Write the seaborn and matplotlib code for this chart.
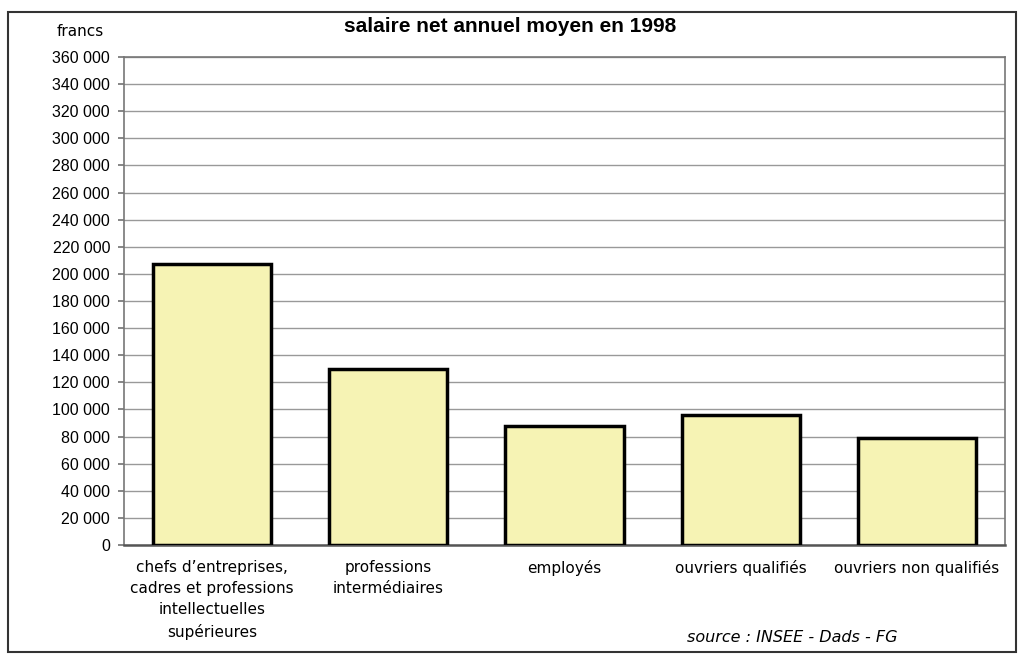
import matplotlib
matplotlib.use("Agg")
import matplotlib.pyplot as plt
import seaborn as sns
import pandas as pd
from matplotlib.patches import Rectangle
from matplotlib.ticker import FuncFormatter, MultipleLocator

categories = [
    "chefs d’entreprises,\ncadres et professions\nintellectuelles\nsupérieures",
    "professions\nintermédiaires",
    "employés",
    "ouvriers qualifiés",
    "ouvriers non qualifiés",
]
salaires = [207000, 130000, 88000, 96000, 79000]

title = "salaire net annuel moyen en 1998"
unit_label = "francs"
source = "source : INSEE - Dads - FG"

sns.set_theme(style="white")
plt.rcParams['font.family'] = ['DejaVu Sans']
plt.rcParams['text.color'] = 'black'
plt.rcParams['xtick.color'] = 'black'
plt.rcParams['ytick.color'] = 'black'

df = pd.DataFrame({"cat": categories, "val": salaires})

fig = plt.figure(figsize=(10.24, 6.57), dpi=100)
ax = fig.add_axes([124/1024, 1-545/657, (1005-124)/1024, (545-57)/657])

sns.barplot(data=df, x="cat", y="val", ax=ax, color="#F6F3B4", width=0.67,
            edgecolor="black", linewidth=2.5, saturation=1, zorder=3)

ax.set_ylim(0, 360000)
ax.set_xlim(-0.5, 4.5)
ax.yaxis.set_major_locator(MultipleLocator(20000))
ax.yaxis.set_major_formatter(FuncFormatter(lambda v, p: f"{int(v):,}".replace(",", " ")))
ax.grid(axis="y", color="#999999", linewidth=1.0, zorder=0)
ax.set_axisbelow(True)
for s in ax.spines.values():
    s.set_color("#777777")
    s.set_linewidth(1.2)
ax.spines["bottom"].set_color("#555555")
ax.spines["bottom"].set_linewidth(1.8)

ax.set_xlabel("")
ax.set_ylabel("")
ax.tick_params(axis="y", labelsize=11.5, length=4, color="#777777", labelcolor="black", pad=6, left=True)
ax.tick_params(axis="x", length=0, pad=11, labelcolor="black")
for t in ax.get_yticklabels():
    t.set_fontfamily("Liberation Sans")
for t in ax.get_xticklabels():
    t.set_fontsize(11)
    t.set_linespacing(1.5)
    t.set_verticalalignment("top")

fig.text(510/1024, 1-27/657, title, ha="center", va="center",
         fontsize=15, fontweight="bold", family="Liberation Sans", color="black")
fig.text(80/1024, 1-31/657, unit_label, ha="center", va="center",
         fontsize=11, family="DejaVu Sans", color="black")
fig.text(792/1024, 1-637/657, source, ha="center", va="center",
         fontsize=11.5, style="italic", family="DejaVu Sans", color="black")

fig.patches.append(Rectangle((8/1024, 5/657), (1016-8)/1024, (645-5)/657,
                             transform=fig.transFigure, fill=False,
                             edgecolor="#333333", linewidth=1.5))

fig.savefig("out.png", dpi=100)
